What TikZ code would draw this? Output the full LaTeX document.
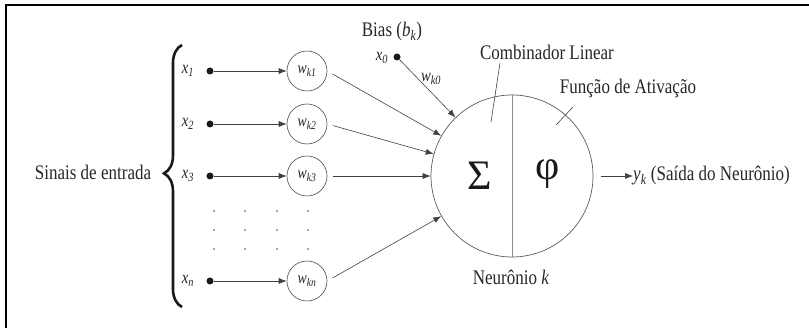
\documentclass[tikz,border=0pt]{standalone}
\usepackage{fontspec}
\usepackage{graphicx}
\setmainfont{Liberation Serif}
\usetikzlibrary{decorations.pathreplacing,arrows.meta}
\newcommand{\vsub}[2]{\textit{#1}\textsubscript{\textit{#2}}}
\newcommand{\stt}[1]{\scalebox{0.92}[1.12]{#1}}
\begin{document}
\begin{tikzpicture}[x=1pt,y=-1pt,
  txt/.style={font=\fontsize{18.5}{21}\selectfont, text=black!85, inner sep=0pt},
  var/.style={font=\fontsize{16}{18}\selectfont, text=black!85, inner sep=0pt},
  wnode/.style={circle, draw=black!70, line width=0.6pt, minimum size=40pt, inner sep=0pt, font=\fontsize{15}{18}\selectfont, text=black!85},
  inp/.style={circle, fill=black!90, minimum size=7pt, inner sep=0pt},
  arr/.style={draw=black!75, line width=0.6pt, -{Latex[length=8pt,width=6pt]}},
  ln/.style={draw=black!75, line width=0.6pt},
  bigsym/.style={font=\fontsize{42}{42}\selectfont, text=black!90, inner sep=0pt},
]
\useasboundingbox (0,0) rectangle (809,328);
\draw[line width=2.5pt] (809,5) -- (6,5) -- (6,328);

% neuron
\node[circle, draw=black!65, line width=0.7pt, minimum size=162pt, inner sep=0pt] (N) at (512,176) {};
\draw[draw=black!45, line width=0.9pt] (N.north) -- (N.south);
\node[bigsym] (sig) at (480,176) {Σ};
\node[bigsym] (phi) at (548,174) {φ};

% inputs
\foreach \i/\y/\s in {1/71/1,2/124/2,3/176/3,n/281/n} {
  \node[var] (x\i) at (188,\y) {\stt{\vsub{x}{\s}}};
  \node[inp] (d\i) at (210,\y) {};
  \node[wnode] (w\i) at (307,\y) {\stt{\vsub{w}{k\s}}};
  \draw[arr] (d\i) -- (w\i);
  \draw[arr, shorten <=6pt] (w\i.east) -- (N);
}

% dots
\foreach \xx in {214,245,277,308}
  \foreach \yy in {211,230,249}
    \fill[black!70] (\xx,\yy) circle (0.9pt);

% brace and label
\node[txt] (sin) at (93,172) {\stt{Sinais de entrada}};
\draw[decorate, decoration={brace, amplitude=18pt, aspect=0.51}, line width=2.6pt, black!90] (182,307) -- (182,45);

% bias
\node[txt] (bias) at (392,32) {\stt{Bias (\vsub{b}{k})}};
\node[var] (x0) at (382,58) {\stt{\vsub{x}{0}}};
\node[inp] (d0) at (397,57) {};
\node[var] (wk0) at (431,79) {\stt{\vsub{w}{k0}}};
\draw[arr] (d0) -- (N);

% annotations
\node[txt] (comb) at (547,52) {\stt{Combinador Linear}};
\coordinate (c1) at (500,63);
\coordinate (c2) at (491,122);
\draw[ln] (c1) -- (c2);
\node[txt] (func) at (628,89) {\stt{Função de Ativação}};
\coordinate (f1) at (573,107);
\coordinate (f2) at (556,125);
\draw[ln] (f1) -- (f2);
\node[txt] (neur) at (511,277) {\stt{Neurônio \textit{k}}};

% output
\node[txt, anchor=west] (out) at (633,176) {\stt{\vsub{y}{k} (Saída do Neurônio)}};
\draw[arr, shorten <=8pt] (N.east) -- (out.west);
\end{tikzpicture}
\end{document}
